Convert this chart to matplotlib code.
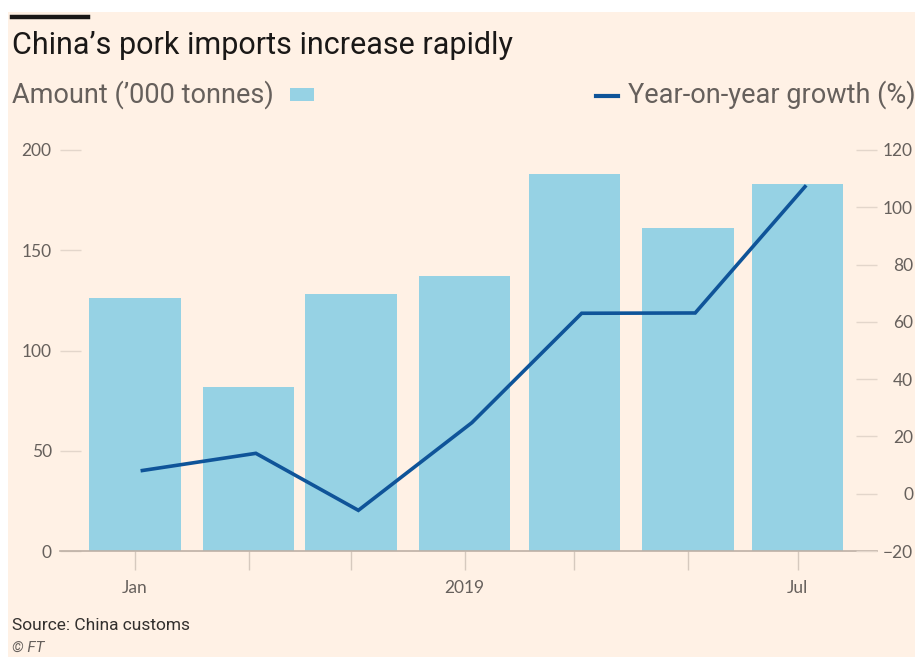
import datetime as dt
import matplotlib
matplotlib.use('Agg')
import matplotlib.pyplot as plt
import matplotlib.dates as mdates
from matplotlib.patches import Rectangle
from matplotlib.ticker import FixedLocator

# data (Jan-Jul 2019)
months = [dt.datetime(2019, m, 15) for m in range(1, 8)]
amount = [126, 82, 128, 137, 188, 161, 183]          # '000 tonnes
growth = [8.1, 14.1, -5.8, 24.8, 63.0, 63.1, 107.2]  # year-on-year %
left_ticks = [0, 50, 100, 150, 200]
right_ticks = [-20, 0, 20, 40, 60, 80, 100, 120]
labelled = {1: 'Jan', 4: '2019', 7: 'Jul'}

BG = '#FFF1E5'
BAR = '#96D2E4'
LINE = '#0F5499'
GREY = '#66605C'
TICK = '#E3D6CB'
HEAD = ['Roboto', 'DejaVu Sans']
ROUND = ['Lato', 'DejaVu Sans']

W, H = 915, 657
fig = plt.figure(figsize=(W / 100, H / 100), dpi=100, facecolor='white')
fig.patches.append(Rectangle((8 / W, 0), 1, 1 - 12 / H, transform=fig.transFigure,
                             facecolor=BG, edgecolor='none', zorder=-10))

# axes box in pixels: x 60..877, y 150..551
ax = fig.add_axes([60 / W, 1 - 551 / H, 817 / W, 401 / H])
ax.patch.set_visible(False)
ax.bar(months, amount, width=25, color=BAR, zorder=2)
ax.set_ylim(0, 200)
ax.set_xlim(dt.datetime(2018, 12, 25, 12), dt.datetime(2019, 8, 5, 16))

for s in ['left', 'right', 'top']:
    ax.spines[s].set_visible(False)
ax.spines['bottom'].set_color('#BDB0A5')
ax.spines['bottom'].set_linewidth(1.2)
ax.spines['bottom'].set_zorder(3)

ax.yaxis.set_major_locator(FixedLocator(left_ticks))
ax.tick_params(axis='y', direction='in', length=15, width=1, color=TICK, pad=6,
               labelsize=12.5, labelcolor=GREY)
for lab in ax.get_yticklabels():
    lab.set_family(ROUND)

ax.set_xticks(months)
ax.xaxis.set_major_formatter(mdates.DateFormatter(''))
ax.set_xticklabels([labelled.get(d.month, '') for d in months])
ax.tick_params(axis='x', direction='out', length=14, width=1, color='#D6C9BE', pad=7,
               labelsize=12.5, labelcolor=GREY)
for tl, d in zip(ax.get_xticklines()[::2], months):
    tl.set_color('#BDB0A5' if d.month in labelled else '#E3D6CB')
for lab in ax.get_xticklabels():
    lab.set_family(ROUND)

ax2 = ax.twinx()
ax2.patch.set_visible(False)
for s in ['left', 'right', 'top', 'bottom']:
    ax2.spines[s].set_visible(False)
ax2.plot([d + dt.timedelta(days=2) for d in months], growth, color=LINE, lw=2.6,
         solid_joinstyle='miter', zorder=4)
ax2.set_ylim(-20, 120)
ax2.yaxis.set_major_locator(FixedLocator(right_ticks))
ax2.tick_params(axis='y', direction='in', length=15, width=1, color=TICK, pad=26,
                labelsize=12.5, labelcolor=GREY)
for lab in ax2.get_yticklabels():
    lab.set_family(ROUND)
    lab.set_horizontalalignment('right')

# header
fig.add_artist(plt.Line2D([12 / W, 88 / W], [1 - 17 / H, 1 - 17 / H], color='#1A1817', lw=3.2))
fig.text(12 / W, 1 - 46 / H, 'China’s pork imports increase rapidly', family=HEAD,
         fontsize=22, color='#1A1817', va='center', ha='left')
fig.text(12 / W, 1 - 95 / H, 'Amount (’000 tonnes)', family=HEAD, fontsize=19.5,
         color=GREY, va='center', ha='left')
fig.patches.append(Rectangle((290 / W, 1 - 101 / H), 24 / W, 13 / H, transform=fig.transFigure,
                             facecolor=BAR, edgecolor='none'))
fig.add_artist(plt.Line2D([596 / W, 618 / W], [1 - 96 / H, 1 - 96 / H], color=LINE, lw=3))
fig.text(628 / W, 1 - 95 / H, 'Year-on-year growth (%)', family=HEAD, fontsize=19.5,
         color=GREY, va='center', ha='left')

# footer
fig.text(12 / W, 1 - 625 / H, 'Source: China customs', family=HEAD, fontsize=12.5,
         color='#33302E', va='center', ha='left')
fig.text(12 / W, 1 - 648 / H, '© FT', family=HEAD, fontsize=11, style='italic',
         color=GREY, va='center', ha='left')

fig.savefig('out.png', dpi=100, facecolor='white')
